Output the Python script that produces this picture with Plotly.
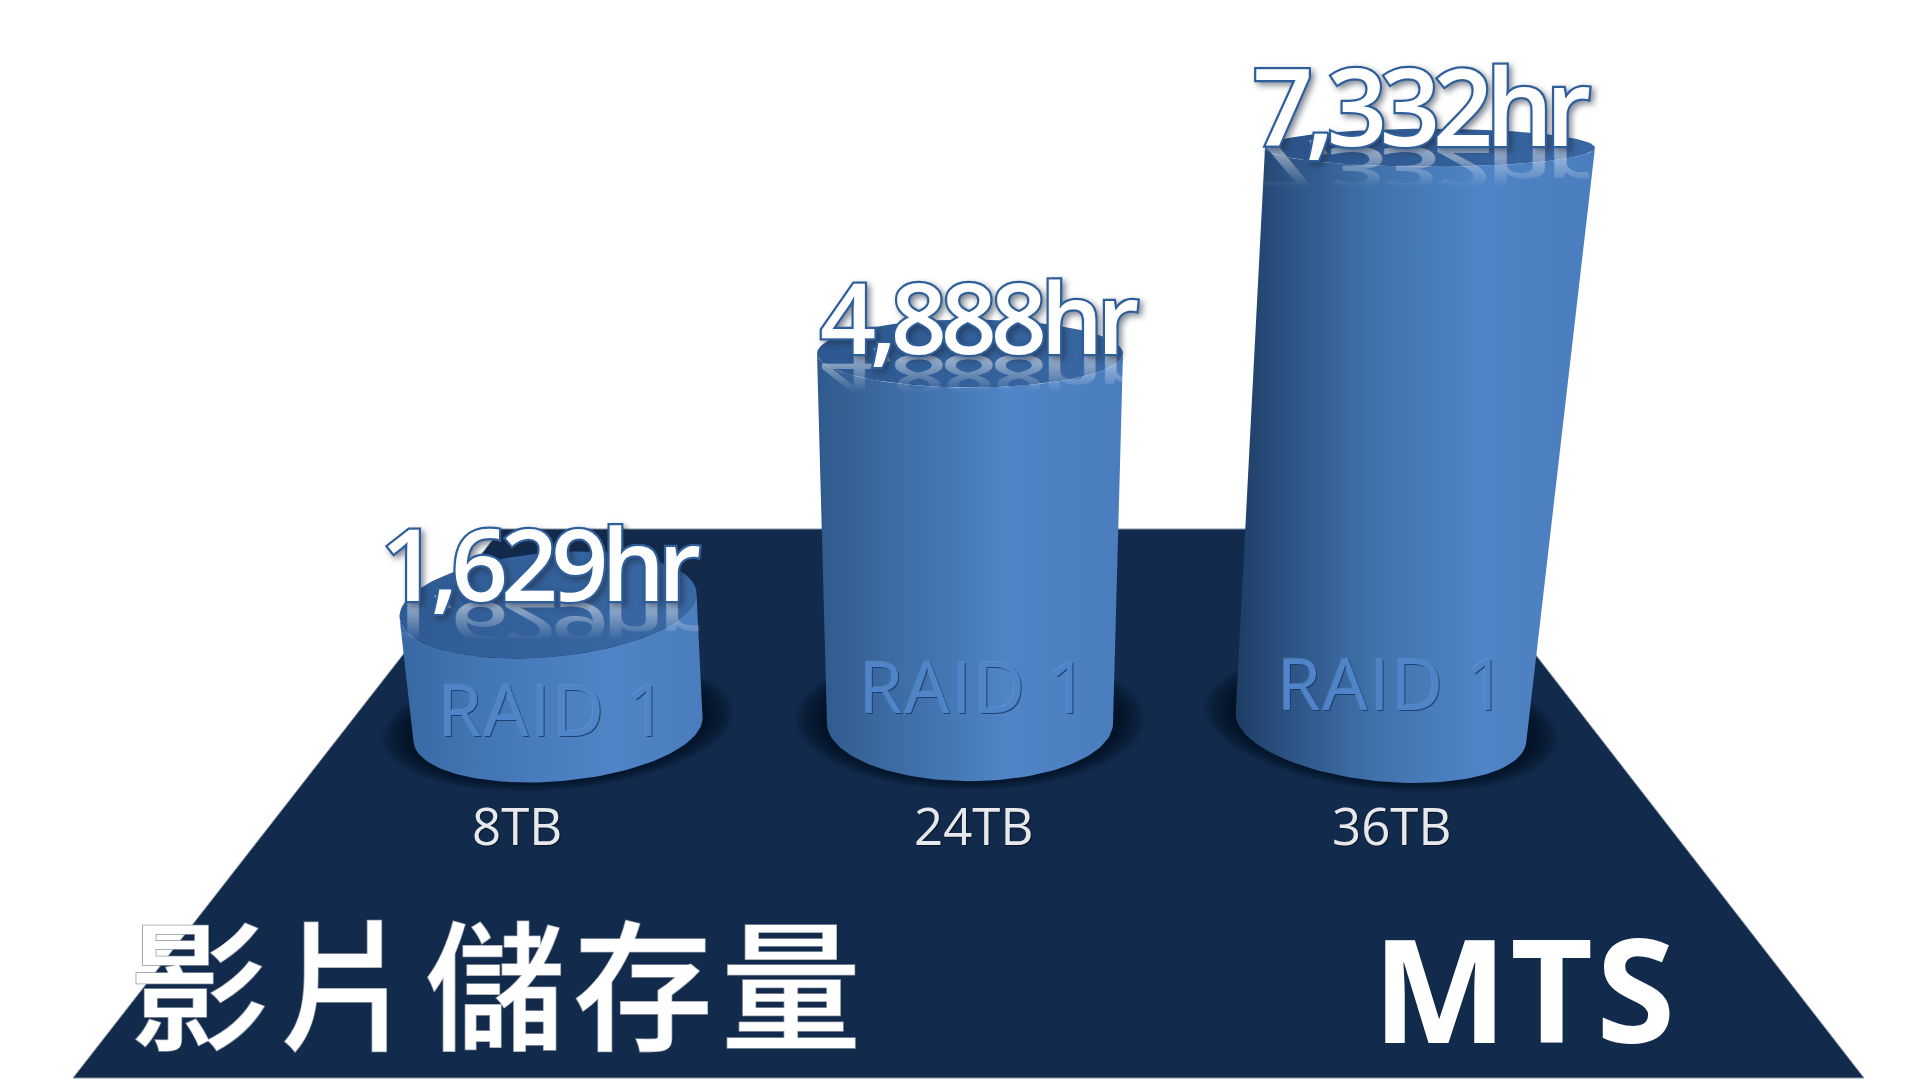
import math
import plotly.graph_objects as go

# ---- data ----
categories = ["8TB", "24TB", "36TB"]
hours = [1629, 4888, 7332]
hour_labels = ["1,629hr", "4,888hr", "7,332hr"]
raid_labels = ["RAID 1", "RAID 1", "RAID 1"]
title_text = "影片儲存量"
brand_text = "MTS"

# ---- canvas / scale ----
W, H = 1919, 1080
Y_TOP, Y_BOTTOM = 9195.0, -4424.0   # hours axis range: zero sits on the cylinder bases


def ya(px):
    """pixel row -> value on the hours axis"""
    return Y_TOP + (Y_BOTTOM - Y_TOP) * px / H


def yp(v):
    return (v - Y_TOP) / (Y_BOTTOM - Y_TOP) * H


# ---- cylinder perspective geometry (px), per cylinder ----
base_cx = [558, 970, 1381]
base_cy_off = [0, -6, -2]
base_a = [145, 143, 146]
base_b = [52, 58, 54]
base_tilt = [-5, 0, 6]
top_cx = [548, 970, 1430]
top_a = [149, 153, 165]
top_b = [52, 34, 19]
top_tilt = [-5, 0, 0]
top_dy = [5, 12, 0]
body_scales = [
    [[0, "#3868a3"], [0.22, "#4274b2"], [0.7, "#4f84c6"], [1, "#4a7dbd"]],
    [[0, "#305a8c"], [0.25, "#3d6ba4"], [0.62, "#4f84c6"], [1, "#4a7dbd"]],
    [[0, "#1d3d64"], [0.14, "#2c5282"], [0.38, "#4071ab"], [0.68, "#4f84c6"], [1, "#4a7dbd"]],
]
top_scales = [
    [[0, "#2f5b94"], [1, "#3a69a5"]],
    [[0, "#2d5890"], [1, "#3a69a5"]],
    [[0, "#2a5288"], [1, "#3a69a5"]],
]
label_x = [517, 973, 1391]
raid_x = [553, 974, 1392]
raid_y = [708, 685, 682]
value_x = [537, 976, 1418]
value_y = [562, 316, 105]
value_size = [100, 98, 106]
FLOOR = [(501, 529), (1438, 529), (1864, 1078), (73, 1078)]


def ellipse(cx, cy, a, b, tilt_deg, t):
    th = math.radians(tilt_deg)
    return (cx + a * math.cos(t) * math.cos(th) - b * math.sin(t) * math.sin(th),
            cy + a * math.cos(t) * math.sin(th) + b * math.sin(t) * math.cos(th))


def arc(cx, cy, a, b, tilt, t0, t1, n=72):
    return [ellipse(cx, cy, a, b, tilt, t0 + (t1 - t0) * i / n) for i in range(n + 1)]


fig = go.Figure()

# floor
fx = [p[0] for p in FLOOR] + [FLOOR[0][0]]
fy = [ya(p[1]) for p in FLOOR] + [ya(FLOOR[0][1])]
fig.add_trace(go.Scatter(x=fx, y=fy, mode="lines", fill="toself", fillcolor="#122a4c",
                         line=dict(color="#8793a5", width=1), hoverinfo="skip", showlegend=False))

for i, h in enumerate(hours):
    bcy = yp(0) + base_cy_off[i]
    tcy = yp(h) + top_dy[i]
    # soft contact shadow
    for k in range(12):
        grow = 32 - k * 2.6
        pts = arc(base_cx[i], bcy - 4, base_a[i] + grow, base_b[i] + grow * 0.4, base_tilt[i], 0, 2 * math.pi)
        fig.add_trace(go.Scatter(x=[p[0] for p in pts], y=[ya(p[1]) for p in pts], mode="lines",
                                 fill="toself", fillcolor="rgba(5,12,26,0.085)", line=dict(width=0),
                                 hoverinfo="skip", showlegend=False))
    # body
    lower = arc(base_cx[i], bcy, base_a[i], base_b[i], base_tilt[i], math.pi, 0)
    upper = arc(top_cx[i], tcy, top_a[i], top_b[i], top_tilt[i], 0, math.pi)
    pts = lower + upper + [lower[0]]
    fig.add_trace(go.Scatter(x=[p[0] for p in pts], y=[ya(p[1]) for p in pts], mode="lines",
                             fill="toself", line=dict(width=0), hoverinfo="skip", showlegend=False,
                             fillgradient=dict(type="horizontal", colorscale=body_scales[i])))
    # top face
    pts = arc(top_cx[i], tcy, top_a[i], top_b[i], top_tilt[i], 0, 2 * math.pi, 120)
    fig.add_trace(go.Scatter(x=[p[0] for p in pts], y=[ya(p[1]) for p in pts], mode="lines",
                             fill="toself", line=dict(width=0), hoverinfo="skip", showlegend=False,
                             fillgradient=dict(type="horizontal", colorscale=top_scales[i])))

ann = []
for i, c in enumerate(categories):
    ann.append(dict(x=label_x[i], y=ya(825), text=c, showarrow=False, xref="x", yref="y",
                    font=dict(family="Open Sans", size=51, color="#e6e8ec",
                              shadow="1px 1px 1px rgba(0,0,0,0.5)")))
    ann.append(dict(x=raid_x[i], y=ya(raid_y[i]), text=raid_labels[i], showarrow=False, xref="x", yref="y",
                    font=dict(family="Open Sans", size=71, color="#4f85c8", weight=400)))
    ann.append(dict(x=value_x[i], y=ya(value_y[i]), text=hour_labels[i], showarrow=False, xref="x", yref="y",
                    font=dict(family="Open Sans", size=value_size[i], color="#ffffff", weight=600)))
ann.append(dict(x=499, y=ya(978), text=title_text, showarrow=False, xref="x", yref="y",
                font=dict(family="Noto Sans CJK TC", size=140, color="#ffffff", weight=500)))
ann.append(dict(x=1525, y=ya(987), text=brand_text, showarrow=False, xref="x", yref="y",
                font=dict(family="Open Sans", size=143, color="#ffffff", weight=700)))

fig.update_layout(
    width=W, height=H, margin=dict(l=0, r=0, t=0, b=0), autosize=False,
    paper_bgcolor="#ffffff", plot_bgcolor="#ffffff", showlegend=False,
    xaxis=dict(range=[0, W], visible=False, fixedrange=True),
    yaxis=dict(range=[Y_BOTTOM, Y_TOP], visible=False, fixedrange=True),
    annotations=ann,
)

post = """
document.body.style.margin='0';
var all=document.querySelectorAll('.annotation-text');
var NS='http://www.w3.org/2000/svg';
var host=document.querySelector('svg.main-svg');
var defs=document.createElementNS(NS,'defs');
defs.innerHTML='<linearGradient id="reflfade" x1="0" y1="0" x2="0" y2="1"><stop offset="0.28" stop-color="#fff" stop-opacity="0"/><stop offset="0.78" stop-color="#fff" stop-opacity="0.55"/></linearGradient>';
host.appendChild(defs);
all.forEach(function(t){
  var s=t.textContent;
  if(/hr$/.test(s)){
    t.style.letterSpacing=(s.indexOf('4,888')==0)?'-6px':(s.indexOf('7,332')==0?'-7.6px':'-7px');
    var yb=parseFloat(t.getAttribute('y'))||0;
    var k=0.55;
    var c=t.cloneNode(true);
    c.style.fill='url(#reflfade)';
    c.setAttribute('transform','matrix(1 0 0 '+(-k)+' 0 '+((1+k)*yb+1)+')');
    t.parentNode.insertBefore(c,t);
    t.style.stroke='#2f5f9b'; t.style.strokeWidth='4.5px'; t.style.paintOrder='stroke';
    t.style.strokeLinejoin='miter';
    t.style.filter='drop-shadow(3px 3px 3px rgba(30,40,60,0.55))';
  } else if(/^RAID/.test(s)){
    t.style.letterSpacing='2px';
    t.style.filter='drop-shadow(1.5px 1.5px 0.6px rgba(25,55,100,0.85)) drop-shadow(-0.6px -0.6px 0.4px rgba(120,165,220,0.35))';
  } else if(s.indexOf('MTS')>=0){
    t.style.letterSpacing='3px';
  } else if(!/TB$/.test(s)){
    t.style.stroke='#8d97a6'; t.style.strokeWidth='1.6px'; t.style.paintOrder='stroke';
    t.style.letterSpacing='8px';
  }
});
"""
fig.write_html("out.html", config=dict(displayModeBar=False, staticPlot=True), post_script=post)
